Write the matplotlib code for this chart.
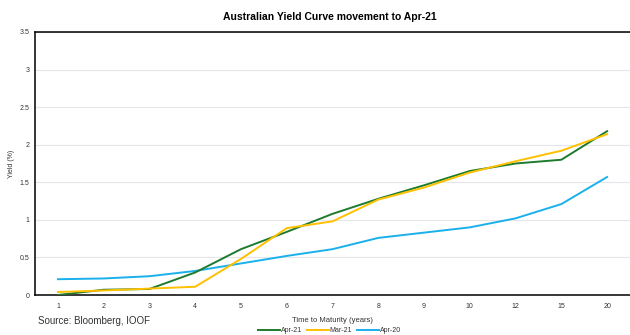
import numpy as np
import matplotlib
matplotlib.use("Agg")
import matplotlib.pyplot as plt

# ── data ─────────────────────────────────────────────────────────────────────
maturities = ["1", "2", "3", "4", "5", "6", "7", "8", "9", "10", "12", "15", "20"]
apr21 = [0.00, 0.07, 0.08, 0.30, 0.61, 0.84, 1.08, 1.28, 1.46, 1.65, 1.75, 1.80, 2.18]
mar21 = [0.04, 0.06, 0.085, 0.11, 0.48, 0.89, 0.98, 1.27, 1.43, 1.63, 1.78, 1.92, 2.14]
apr20 = [0.21, 0.22, 0.25, 0.32, 0.42, 0.52, 0.61, 0.76, 0.83, 0.90, 1.02, 1.21, 1.57]

COLORS = {"Apr-21": "#1E7B2E", "Mar-21": "#FFC000", "Apr-20": "#1AB0EC"}

plt.rcParams["font.family"] = ["Liberation Sans", "DejaVu Sans"]

fig = plt.figure(figsize=(6.3, 3.35), dpi=100)
ax = fig.add_axes([0.0556, 0.1194, 0.9444, 0.7851])

x = np.arange(len(maturities))
ax.plot(x, apr21, color=COLORS["Apr-21"], lw=1.4, label="Apr-21", zorder=3)
ax.plot(x, mar21, color=COLORS["Mar-21"], lw=1.4, label="Mar-21", zorder=3)
ax.plot(x, apr20, color=COLORS["Apr-20"], lw=1.4, label="Apr-20", zorder=2)

ax.set_xlim(-0.5, len(maturities) - 0.5)
ax.set_ylim(0, 3.5)
ax.set_xticks(x)
ax.set_xticklabels(maturities)
ax.set_yticks(np.arange(0, 3.51, 0.5))
ax.set_yticklabels(["0", "0.5", "1", "1.5", "2", "2.5", "3", "3.5"])
ax.tick_params(length=0, labelsize=5, colors="#333333")
ax.tick_params(axis="y", pad=4)
ax.tick_params(axis="x", pad=6)

ax.grid(axis="y", color="#E6E6EA", lw=0.8)
ax.set_axisbelow(True)
for side in ["left", "top", "bottom"]:
    ax.spines[side].set_color("black")
    ax.spines[side].set_linewidth(1.1)
ax.spines["right"].set_visible(False)

ax.set_ylabel("Yield (%)", fontsize=5, color="#333333", labelpad=3)
ax.set_xlabel("Time to Maturity (years)", fontsize=5.5, color="#333333", labelpad=5)
fig.text(0.5238, 0.950, "Australian Yield Curve movement to Apr-21",
         ha="center", va="center", fontsize=7.5, fontweight="bold")
fig.text(0.060, 0.041, "Source: Bloomberg, IOOF", ha="left", va="center",
         fontsize=7, color="#333333")

fig.legend(loc="center", bbox_to_anchor=(0.523, 0.013), ncol=3, frameon=False,
           fontsize=5, handlelength=3.2, handletextpad=0.1, columnspacing=0.7,
           labelcolor="#333333")

fig.savefig("out.png", dpi=100)
plt.close()
